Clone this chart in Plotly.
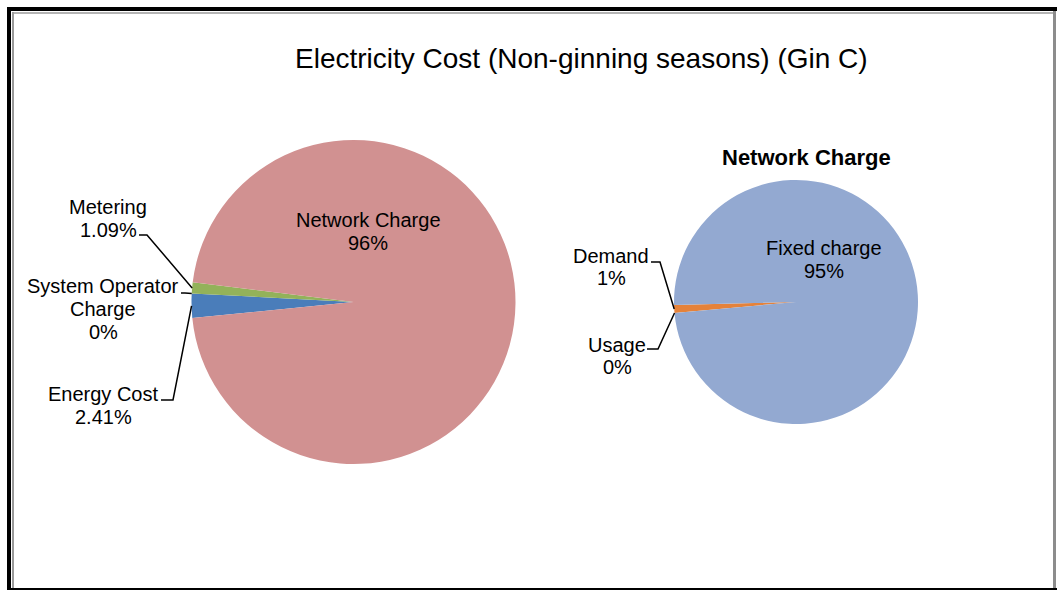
import math
import plotly.graph_objects as go

# Canvas size in pixels
W, H = 1057, 590

# ---- data ----
cost_items = ["Energy Cost", "System Operator Charge", "Metering", "Network Charge"]
cost_pct = [2.41, 0, 1.09, 96]
cost_colors = ["#4A7DBA", "#C0504D", "#93B25A", "#D19191"]

network_items = ["Usage", "Demand", "Fixed charge"]
network_pct = [0, 1, 95]
network_colors = ["#4BACC6", "#E5823A", "#93A9D1"]

main_title = "Electricity Cost (Non-ginning seasons) (Gin C)"
sub_title = "Network Charge"

# ---- layout geometry (pixels) ----
LEFT = dict(cx=353.5, cy=302, r=162, rot=-95.7)
RIGHT = dict(cx=796, cy=302, r=122, rot=-95.2)

FONT = "Liberation Sans, Arial, sans-serif"


def px(x):
    return x / W


def py(y):
    return 1 - y / H


def domain(g):
    return dict(x=[px(g["cx"] - g["r"]), px(g["cx"] + g["r"])],
                y=[py(g["cy"] + g["r"]), py(g["cy"] - g["r"])])


def rim_points(values, g):
    """Point on the rim at the middle angle of every slice (clockwise from 12 o'clock)."""
    total = sum(values)
    start = g["rot"]
    pts = []
    for v in values:
        span = 360 * v / total
        a = math.radians(start + span / 2)
        pts.append((g["cx"] + g["r"] * math.sin(a), g["cy"] - g["r"] * math.cos(a)))
        start += span
    return pts


def pct_text(v):
    return f"{v:g}%"


fig = go.Figure()
fig.add_trace(go.Pie(
    labels=cost_items, values=cost_pct, sort=False, direction="clockwise",
    rotation=LEFT["rot"], domain=domain(LEFT), textinfo="none", hoverinfo="label+percent",
    marker=dict(colors=cost_colors, line=dict(width=0)), showlegend=False,
))
fig.add_trace(go.Pie(
    labels=network_items, values=network_pct, sort=False, direction="clockwise",
    rotation=RIGHT["rot"], domain=domain(RIGHT), textinfo="none", hoverinfo="label+percent",
    marker=dict(colors=network_colors, line=dict(width=0)), showlegend=False,
))

annotations = []
shapes = []


def add_text(x, y, text, size=20, bold=False):
    annotations.append(dict(
        x=px(x), y=py(y), xref="paper", yref="paper", showarrow=False,
        xanchor="center", yanchor="middle",
        text=f"<b>{text}</b>" if bold else text,
        font=dict(family=FONT, size=size, color="#000000"),
    ))


def add_label(x, lines_y, lines):
    for yy, t in zip(lines_y, lines):
        add_text(x, yy, t)


def add_leader(p0, p1, rim):
    path = f"M {px(p0[0])} {py(p0[1])} L {px(p1[0])} {py(p1[1])} L {px(rim[0])} {py(rim[1])}"
    shapes.append(dict(type="path", xref="paper", yref="paper", path=path,
                       line=dict(color="#000000", width=1.5)))


# Titles
add_text(581, 58, main_title, size=28)
add_text(806, 157, sub_title, size=22, bold=True)

# Left pie labels
lp = rim_points(cost_pct, LEFT)
wrap = {"System Operator Charge": ["System Operator", "Charge"]}

i_net = cost_items.index("Network Charge")
add_label(368, [220, 243], [cost_items[i_net], pct_text(cost_pct[i_net])])

i_met = cost_items.index("Metering")
add_label(108, [207, 230], [cost_items[i_met], pct_text(cost_pct[i_met])])
add_leader((139, 235), (147, 235), lp[i_met])

i_sys = cost_items.index("System Operator Charge")
add_label(103, [286, 309, 332], wrap[cost_items[i_sys]] + [pct_text(cost_pct[i_sys])])
add_leader((181, 293), (185, 293), lp[i_sys])

i_en = cost_items.index("Energy Cost")
add_label(103, [394, 417], [cost_items[i_en], pct_text(cost_pct[i_en])])
add_leader((161, 400), (173, 400), lp[i_en])

# Right pie labels
rp = rim_points(network_pct, RIGHT)

i_fix = network_items.index("Fixed charge")
add_label(824, [248, 271], [network_items[i_fix], pct_text(network_pct[i_fix])])

i_dem = network_items.index("Demand")
add_label(611, [256, 278], [network_items[i_dem], pct_text(network_pct[i_dem])])
add_leader((651, 262), (660, 262), rp[i_dem])

i_use = network_items.index("Usage")
add_label(617, [345, 367], [network_items[i_use], pct_text(network_pct[i_use])])
add_leader((647, 349), (658, 349), rp[i_use])


# Frame around the chart area
def rect(x0, y0, x1, y1, color):
    shapes.append(dict(type="rect", xref="paper", yref="paper", layer="above",
                       x0=px(x0), x1=px(x1), y0=py(y1), y1=py(y0),
                       fillcolor=color, line=dict(width=0)))


rect(7, 7, 1057, 11, "#000000")
rect(7, 7, 11, 590, "#000000")
rect(11, 588, 1057, 590, "#000000")
rect(12, 12, 1053, 14, "#B4B4B4")
rect(12, 12, 14, 588, "#9A9A9A")
rect(1053, 11, 1056, 588, "#8C8C8C")

fig.update_layout(
    width=W, height=H,
    margin=dict(l=0, r=0, t=0, b=0),
    paper_bgcolor="#FFFFFF", plot_bgcolor="#FFFFFF",
    annotations=annotations, shapes=shapes,
    showlegend=False,
)

fig.write_html("out.html")
